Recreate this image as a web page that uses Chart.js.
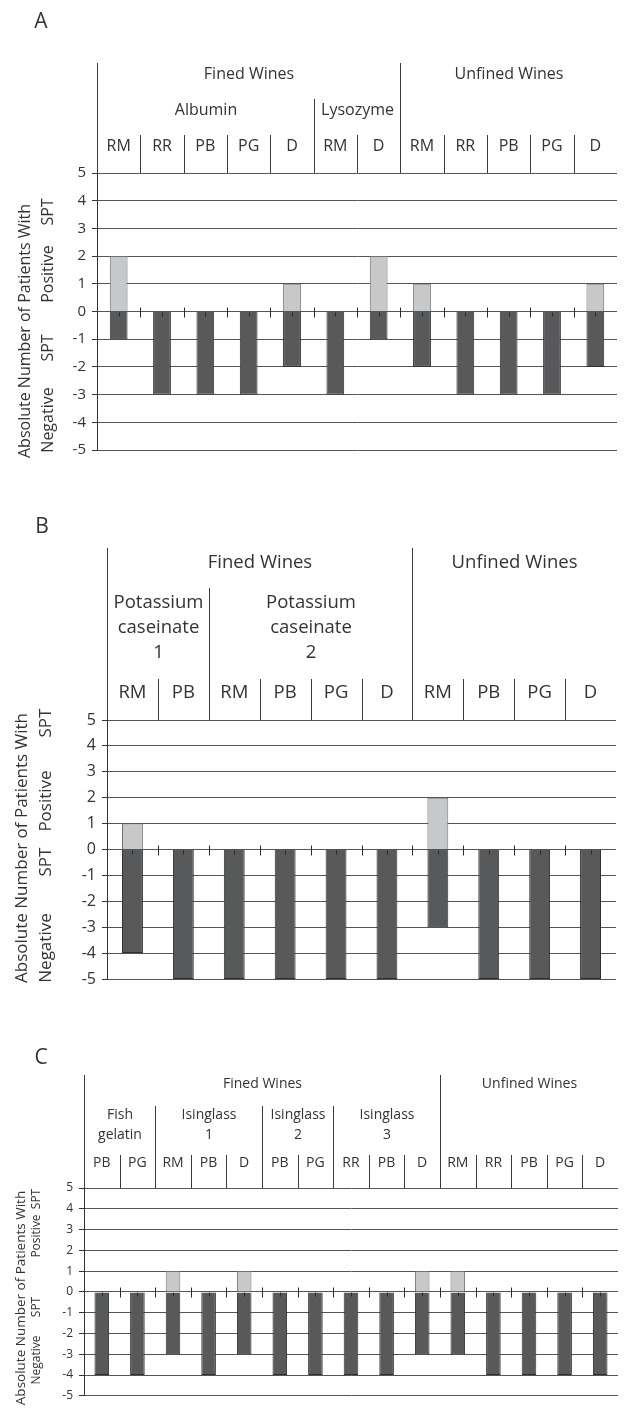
<!DOCTYPE html>
<html>
<head>
<meta charset="utf-8">
<title>Skin prick test results by wine</title>
<script src="https://cdn.jsdelivr.net/npm/chart.js@4.4.1/dist/chart.umd.min.js"></script>
<style>
  html, body { margin: 0; padding: 0; background: #fff; }
  body { width: 624px; height: 1409px; position: relative; overflow: hidden; }
  .panel { position: absolute; left: 0; width: 624px; }
  canvas { display: block; }
</style>
</head>
<body>
<div class="panel" style="top:0px"><canvas id="chart-a" width="624" height="475"></canvas></div>
<div class="panel" style="top:475px"><canvas id="chart-b" width="624" height="520"></canvas></div>
<div class="panel" style="top:995px"><canvas id="chart-c" width="624" height="414"></canvas></div>
<script>
'use strict';

// ********** DATA **********

let yTicks = [-5, -4, -3, -2, -1, 0, 1, 2, 3, 4, 5];

// panel A
let winesA = ['RM', 'RR', 'PB', 'PG', 'D', 'RM', 'D', 'RM', 'RR', 'PB', 'PG', 'D'];
let positiveA = [2, 0, 0, 0, 1, 0, 2, 1, 0, 0, 0, 1];
let negativeA = [-1, -3, -3, -3, -2, -3, -1, -2, -3, -3, -3, -2];
let groupsA = [['Fined Wines', 7], ['Unfined Wines', 5]];
let agentsA = [[['Albumin'], 5], [['Lysozyme'], 2], [[], 5]];

// panel B
let winesB = ['RM', 'PB', 'RM', 'PB', 'PG', 'D', 'RM', 'PB', 'PG', 'D'];
let positiveB = [1, 0, 0, 0, 0, 0, 2, 0, 0, 0];
let negativeB = [-4, -5, -5, -5, -5, -5, -3, -5, -5, -5];
let groupsB = [['Fined Wines', 6], ['Unfined Wines', 4]];
let agentsB = [[['Potassium', 'caseinate', '1'], 2], [['Potassium', 'caseinate', '2'], 4], [[], 4]];

// panel C
let winesC = ['PB', 'PG', 'RM', 'PB', 'D', 'PB', 'PG', 'RR', 'PB', 'D', 'RM', 'RR', 'PB', 'PG', 'D'];
let positiveC = [0, 0, 1, 0, 1, 0, 0, 0, 0, 1, 1, 0, 0, 0, 0];
let negativeC = [-4, -4, -3, -4, -3, -4, -4, -4, -4, -3, -3, -4, -4, -4, -4];
let groupsC = [['Fined Wines', 10], ['Unfined Wines', 5]];
let agentsC = [[['Fish', 'gelatin'], 2], [['Isinglass', '1'], 3], [['Isinglass', '2'], 2], [['Isinglass', '3'], 3], [[], 5]];

// ********** LAYOUT (page pixels) **********

let panelA = {
  letter: 'A', top: 0, height: 475, axisWidth: 97, padRight: 7, padTop: 173, padBottom: 25,
  tickSize: 15, headSize: 16, titleSize: 16, innerSize: 16,
  letterPos: [41, 22], headTop: 63, l1Y: 74, l2Top: 99, l2Y: [110], l3Top: 135, l3Y: 146,
  titleX: 25, titleY: 331, innerX: 48, inner: [['SPT', 212], ['Positive', 274], ['SPT', 348], ['Negative', 420]]
};
let panelB = {
  letter: 'B', top: 475, height: 520, axisWidth: 107, padRight: 8, padTop: 245, padBottom: 16,
  tickSize: 16, headSize: 18.5, titleSize: 17, innerSize: 17,
  letterPos: [42, 527], headTop: 548, l1Y: 563, l2Top: 588, l2Y: [603, 628, 653], l3Top: 679, l3Y: 693,
  titleX: 22, titleY: 848, innerX: 46, inner: [['SPT', 723], ['Positive', 801], ['SPT', 862], ['Negative', 948]]
};
let panelC = {
  letter: 'C', top: 995, height: 414, axisWidth: 84, padRight: 6, padTop: 193, padBottom: 7,
  tickSize: 12, headSize: 14, titleSize: 13.5, innerSize: 12,
  letterPos: [41, 1058], headTop: 1075, l1Y: 1084, l2Top: 1106, l2Y: [1115, 1135], l3Top: 1155, l3Y: 1163,
  titleX: 21, titleY: 1298, innerX: 37, inner: [['SPT', 1199], ['Positive', 1236], ['SPT', 1307], ['Negative', 1360]]
};

const FONT = 'Open Sans';
const INK = '#333';
Chart.defaults.font.family = FONT;

// ********** HEADER / ANNOTATION PLUGIN **********

function makeHeaderPlugin(panel, wines, groups, agents) {
  return {
    id: 'header' + panel.letter,
    afterDraw(chart) {
      let ctx = chart.ctx;
      let area = chart.chartArea;
      let xs = chart.scales.x;
      let ys = chart.scales.y;
      let off = panel.top;
      let half = (xs.getPixelForValue(1) - xs.getPixelForValue(0)) / 2;
      let edge = (i) => Math.round(xs.getPixelForValue(i) - half) + 0.5;

      ctx.save();
      ctx.strokeStyle = '#3a3a3a';
      ctx.lineWidth = 1;

      function vline(x, y1, y2) {
        ctx.beginPath();
        ctx.moveTo(x, y1);
        ctx.lineTo(x, y2);
        ctx.stroke();
      }

      // axis continues up through header
      vline(edge(0), panel.headTop - off, area.top);

      // wine separators
      for (let i = 1; i < wines.length; i++) {
        vline(edge(i), panel.l3Top - off, area.top);
      }

      // fining agent separators
      let k = 0;
      for (let a = 0; a < agents.length - 1; a++) {
        k += agents[a][1];
        vline(edge(k), panel.l2Top - off, area.top);
      }

      // fined / unfined separator
      k = 0;
      for (let g = 0; g < groups.length - 1; g++) {
        k += groups[g][1];
        vline(edge(k), panel.headTop - off, area.top);
      }

      ctx.fillStyle = INK;
      ctx.textAlign = 'center';
      ctx.textBaseline = 'middle';
      ctx.font = panel.headSize + 'px "' + FONT + '"';

      k = 0;
      groups.forEach((g) => {
        let cx = (edge(k) + edge(k + g[1])) / 2;
        ctx.fillText(g[0], cx, panel.l1Y - off);
        k += g[1];
      });

      k = 0;
      agents.forEach((a) => {
        let cx = (edge(k) + edge(k + a[1])) / 2;
        a[0].forEach((line, j) => {
          ctx.fillText(line, cx, panel.l2Y[j] - off);
        });
        k += a[1];
      });

      wines.forEach((w, i) => {
        ctx.fillText(w, xs.getPixelForValue(i), panel.l3Y - off);
      });

      // category ticks on the zero line
      let y0 = Math.round(ys.getPixelForValue(0)) + 0.5;
      ctx.strokeStyle = '#2a2a2a';
      for (let i = 1; i < wines.length; i++) {
        vline(edge(i), y0 - 5, y0 + 5);
      }
      for (let i = 0; i < wines.length; i++) {
        let cx = Math.round(xs.getPixelForValue(i)) + 0.5;
        vline(cx, y0, y0 + 4);
      }

      // y title, two columns
      ctx.font = panel.titleSize + 'px "' + FONT + '"';
      ctx.save();
      ctx.translate(panel.titleX, panel.titleY - off);
      ctx.rotate(-Math.PI / 2);
      ctx.fillText('Absolute Number of Patients With', 0, 0);
      ctx.restore();
      ctx.font = panel.innerSize + 'px "' + FONT + '"';
      panel.inner.forEach((t) => {
        ctx.save();
        ctx.translate(panel.innerX, t[1] - off);
        ctx.rotate(-Math.PI / 2);
        ctx.fillText(t[0], 0, 0);
        ctx.restore();
      });

      // panel letter
      ctx.font = '21px "' + FONT + '"';
      ctx.fillText(panel.letter, panel.letterPos[0], panel.letterPos[1] - off);

      ctx.restore();
    }
  };
}

// ********** CHARTS **********

function buildChart(canvasId, panel, wines, positive, negative, groups, agents) {
  let ctx = document.getElementById(canvasId).getContext('2d');
  return new Chart(ctx, {
    type: 'bar',
    data: {
      labels: wines,
      datasets: [{
        label: 'Positive SPT',
        data: positive,
        backgroundColor: '#c7c8ca',
        borderColor: '#707070',
        borderWidth: 1
      },
      {
        label: 'Negative SPT',
        data: negative,
        backgroundColor: '#58595b',
        borderColor: '#2f2f2f',
        borderWidth: 1
      }]
    },
    options: {
      responsive: false,
      animation: false,
      events: [],
      layout: {
        padding: { left: 0, right: panel.padRight, top: panel.padTop, bottom: panel.padBottom }
      },
      datasets: {
        bar: { barPercentage: 0.41, categoryPercentage: 1 }
      },
      plugins: {
        legend: { display: false },
        tooltip: { enabled: false }
      },
      scales: {
        x: { stacked: true, display: false },
        y: {
          stacked: true,
          min: yTicks[0],
          max: yTicks[yTicks.length - 1],
          afterFit: (scale) => { scale.width = panel.axisWidth; },
          afterBuildTicks: (scale) => { scale.ticks = yTicks.map((v) => ({ value: v })); },
          ticks: {
            color: INK,
            padding: 6,
            font: { family: FONT, size: panel.tickSize }
          },
          grid: {
            color: '#555',
            lineWidth: 1,
            tickLength: 5,
            tickColor: '#333'
          },
          border: { color: '#333', width: 1 }
        }
      }
    },
    plugins: [makeHeaderPlugin(panel, wines, groups, agents)]
  });
}

buildChart('chart-a', panelA, winesA, positiveA, negativeA, groupsA, agentsA);
buildChart('chart-b', panelB, winesB, positiveB, negativeB, groupsB, agentsB);
buildChart('chart-c', panelC, winesC, positiveC, negativeC, groupsC, agentsC);
</script>
</body>
</html>
